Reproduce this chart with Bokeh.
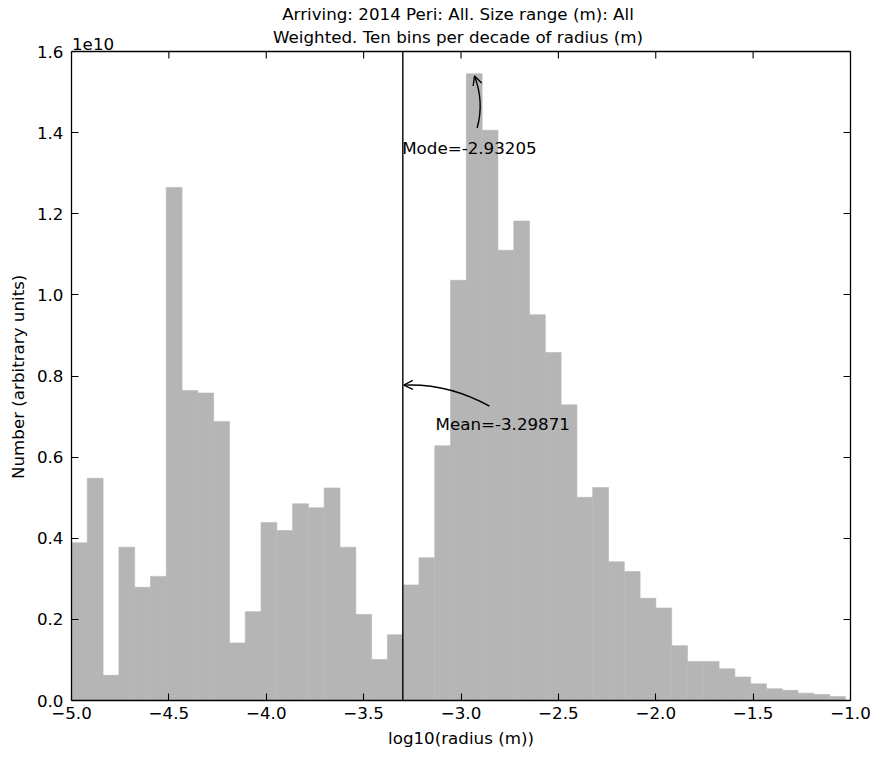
import numpy as np
from bokeh.plotting import figure
from bokeh.models import (Range1d, FixedTicker, LinearAxis, CustomJSTickFormatter,
                          Label, Arrow, OpenHead, ColumnDataSource, Title)
from bokeh.embed import file_html
from bokeh.resources import INLINE

# ---------------- data ----------------
TITLE_LINE1 = "Arriving: 2014 Peri: All. Size range (m): All"
TITLE_LINE2 = "Weighted. Ten bins per decade of radius (m)"
X_LABEL = "log10(radius (m))"
Y_LABEL = "Number (arbitrary units)"
OFFSET_LABEL = "1e10"

BIN_START = -5.0
BIN_WIDTH = 0.0811
COUNTS = [0.389, 0.548, 0.062, 0.378, 0.279, 0.306, 1.265, 0.764, 0.758, 0.688,
          0.142, 0.219, 0.439, 0.419, 0.485, 0.475, 0.524, 0.378, 0.212, 0.101,
          0.162,
          0.285, 0.352, 0.628, 1.036, 1.545, 1.406, 1.110, 1.182, 0.951, 0.858,
          0.729, 0.501, 0.525, 0.342, 0.318, 0.252, 0.228, 0.135, 0.096, 0.096,
          0.078, 0.058, 0.041, 0.029, 0.025, 0.018, 0.015, 0.010]
SCALE = 1e10

MEAN = -3.29871
MODE = -2.93205

X_TICKS = [-5.0, -4.5, -4.0, -3.5, -3.0, -2.5, -2.0, -1.5, -1.0]
Y_TICKS = [0.0, 0.2, 0.4, 0.6, 0.8, 1.0, 1.2, 1.4, 1.6]

# annotation geometry (data units, y in 1e10)
MODE_ARROW_TAIL = (-2.9173, 1.4113)
MODE_ARROW_CTRL = (-2.8798, 1.4755)
MODE_ARROW_TIP = (-2.9307, 1.5396)
MODE_TEXT_POS = (-3.302, 1.362)

MEAN_ARROW_TAIL = (-2.8537, 0.7258)
MEAN_ARROW_CTRL = (-3.0678, 0.7825)
MEAN_ARROW_TIP = (-3.2937, 0.7776)
MEAN_TEXT_POS = (-3.131, 0.682)

# ---------------- layout ----------------
FONT = "DejaVu Sans"
FS = "16.7px"
BAR = "#b5b5b5"
W, H = 880, 751
B_LEFT, B_RIGHT, B_BOTTOM = 71, 30, 51
AXES_H = 649            # height of the axes box in px
FRAME_H = H - B_BOTTOM
TOP_PAD = FRAME_H - AXES_H   # room for titles inside the frame
TICK = 7
YLABEL_LEN = 206        # approx rendered length of the y label (px)

x0, x1 = X_TICKS[0], X_TICKS[-1]
ymax = Y_TICKS[-1] * SCALE
y_end = ymax * FRAME_H / AXES_H
px_y = ymax / AXES_H      # data units per px in y

p = figure(width=W, height=H, output_backend="svg", toolbar_location=None,
           x_range=Range1d(x0, x1), y_range=Range1d(0, y_end),
           min_border_left=B_LEFT, min_border_right=B_RIGHT, min_border_top=0,
           min_border_bottom=B_BOTTOM)
p.background_fill_color = "white"
p.border_fill_color = "white"
p.grid.visible = False
p.outline_line_color = None

n = len(COUNTS)
left = BIN_START + BIN_WIDTH * np.arange(n)
right = left + BIN_WIDTH
top = np.array(COUNTS) * SCALE
src = ColumnDataSource(dict(left=left, right=right, top=top, bottom=np.zeros(n)))
p.quad(left="left", right="right", top="top", bottom="bottom", source=src,
       fill_color=BAR, line_color=BAR, line_width=0.6)

# mean line
p.segment(x0=[MEAN], y0=[0], x1=[MEAN], y1=[ymax], line_color="black", line_width=1.4)

xfmt = CustomJSTickFormatter(code="return (tick < 0 ? '\\u2212' : '') + Math.abs(tick).toFixed(1);")
yfmt = CustomJSTickFormatter(code="return (tick/1e10).toFixed(1);")
empty = CustomJSTickFormatter(code="return '';")
yt = [v * SCALE for v in Y_TICKS]


def style_axis(ax):
    ax.major_tick_in = TICK
    ax.major_tick_out = 0
    ax.minor_tick_line_color = None
    ax.axis_line_color = "black"
    ax.axis_line_width = 1.3
    ax.major_tick_line_color = "black"
    ax.major_tick_line_width = 1.1
    ax.major_label_text_font = FONT
    ax.major_label_text_font_size = FS
    ax.major_label_text_color = "black"
    ax.axis_label_text_font = FONT
    ax.axis_label_text_font_size = FS
    ax.axis_label_text_color = "black"
    ax.axis_label_text_font_style = "normal"


xa = p.xaxis[0]
xa.ticker = FixedTicker(ticks=X_TICKS)
xa.formatter = xfmt
style_axis(xa)
xa.major_label_standoff = 6
xa.axis_label = X_LABEL
xa.axis_label_standoff = 6

ya = p.yaxis[0]
ya.ticker = FixedTicker(ticks=yt)
ya.formatter = yfmt
ya.bounds = (0, ymax)
style_axis(ya)
ya.major_label_standoff = 8

# y label as a left-side title, positioned so it is centred on the axes box
ylab_offset = FRAME_H - (TOP_PAD + AXES_H / 2) - YLABEL_LEN / 2
p.add_layout(Title(text=Y_LABEL, align="left", vertical_align="bottom",
                   offset=ylab_offset, standoff=10.5, text_font=FONT,
                   text_font_size=FS, text_font_style="normal",
                   text_color="black"), "left")

ra = LinearAxis(ticker=FixedTicker(ticks=yt), formatter=empty, bounds=(0, ymax))
style_axis(ra)
ra.major_label_standoff = 0
p.add_layout(ra, "right")

# top spine and its inward ticks
p.segment(x0=[x0], y0=[ymax], x1=[x1], y1=[ymax], line_color="black", line_width=1.3)
p.segment(x0=X_TICKS, y0=[ymax] * len(X_TICKS), x1=X_TICKS,
          y1=[ymax - TICK * px_y] * len(X_TICKS), line_color="black", line_width=1.1)


# curved annotation arrows
def qpoint(p0, c, p1, t):
    return ((1 - t) ** 2 * p0[0] + 2 * (1 - t) * t * c[0] + t ** 2 * p1[0],
            (1 - t) ** 2 * p0[1] + 2 * (1 - t) * t * c[1] + t ** 2 * p1[1])


for tail, ctrl, tip in [(MODE_ARROW_TAIL, MODE_ARROW_CTRL, MODE_ARROW_TIP),
                        (MEAN_ARROW_TAIL, MEAN_ARROW_CTRL, MEAN_ARROW_TIP)]:
    p.quadratic(x0=[tail[0]], y0=[tail[1] * SCALE], x1=[tip[0]], y1=[tip[1] * SCALE],
                cx=[ctrl[0]], cy=[ctrl[1] * SCALE], line_color="black", line_width=1.4)
    q = qpoint(tail, ctrl, tip, 0.9)
    p.add_layout(Arrow(end=OpenHead(size=9, line_width=1.4, line_color="black"),
                       x_start=q[0], y_start=q[1] * SCALE,
                       x_end=tip[0], y_end=tip[1] * SCALE,
                       line_alpha=0))


def lab(x, y, text, align="left", xo=0, yo=0):
    p.add_layout(Label(x=x, y=y, x_offset=xo, y_offset=yo, text=text,
                       text_font=FONT, text_font_size=FS, text_color="black",
                       text_align=align, text_baseline="alphabetic"))


lab(MODE_TEXT_POS[0], MODE_TEXT_POS[1] * SCALE, f"Mode={MODE}")
lab(MEAN_TEXT_POS[0], MEAN_TEXT_POS[1] * SCALE, f"Mean={MEAN}")

xc = (x0 + x1) / 2
lab(xc, ymax, TITLE_LINE1, align="center", xo=-3, yo=37.3)
lab(xc, ymax, TITLE_LINE2, align="center", xo=-3, yo=14.6)
lab(x0, ymax, OFFSET_LABEL, xo=0.5, yo=7.6)

open("out.html", "w").write(file_html(p, INLINE))
